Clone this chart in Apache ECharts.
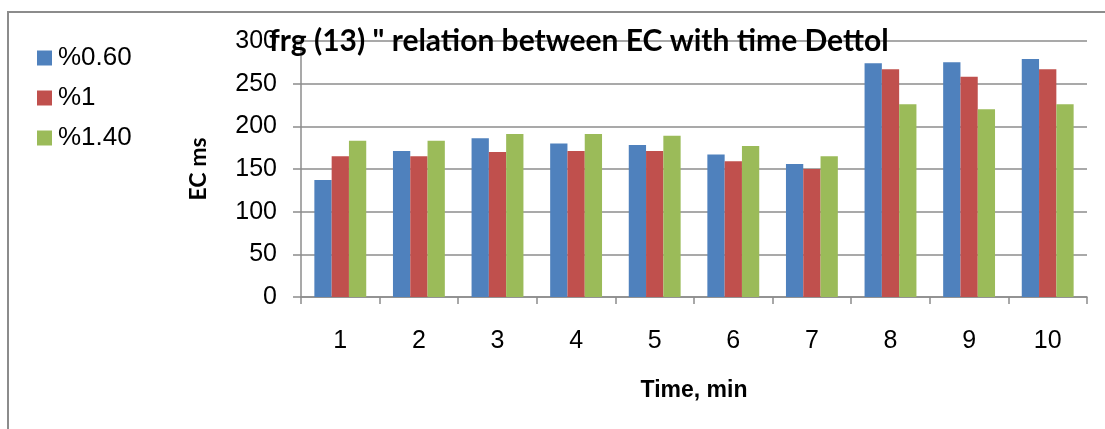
<!DOCTYPE html>
<html>
<head>
<meta charset="utf-8">
<script src="https://cdn.jsdelivr.net/npm/echarts@6/dist/echarts.min.js"></script>
<style>
  html, body { margin: 0; padding: 0; background: #fff; }
  #chart { width: 1105px; height: 429px; }
</style>
</head>
<body>
<div id="chart"></div>
<script>
// Time in minutes along the x axis
const categories = ['1', '2', '3', '4', '5', '6', '7', '8', '9', '10'];
// EC (ms) for each Dettol concentration
const seriesNames = ['%0.60', '%1', '%1.40'];
const conc060 = [137, 171, 186, 180, 178, 167, 156, 274, 275, 279];
const conc1 = [165, 165, 170, 171, 171, 159, 150, 267, 258, 267];
const conc140 = [183, 183, 191, 191, 189, 177, 165, 226, 220, 226];
const yTicks = { min: 0, max: 300, interval: 50 };

const colors = ['#4F81BD', '#C0504D', '#9BBB59'];
const valueSets = [conc060, conc1, conc140];

const chart = echarts.init(document.getElementById('chart'), null, { renderer: 'canvas' });

const gridLine = '#8c8c8c';

chart.setOption({
  animation: false,
  backgroundColor: '#fff',
  title: {
    text: 'frg (13) " relation between EC with time Dettol',
    left: 264,
    top: 21,
    textStyle: {
      fontFamily: 'Lato',
      fontWeight: 'bold',
      fontSize: 30,
      color: '#000'
    },
    z: 20
  },
  legend: {
    orient: 'vertical',
    left: 37,
    top: 45,
    padding: 0,
    itemWidth: 15,
    itemHeight: 15,
    itemGap: 14,
    icon: 'rect',
    textStyle: {
      fontFamily: 'Liberation Sans',
      fontSize: 26,
      color: '#000',
      padding: [0, 0, 0, 1]
    },
    data: seriesNames
  },
  graphic: [{
    type: 'rect',
    shape: { x: 8, y: 12, width: 1110, height: 430 },
    style: { fill: 'none', stroke: '#8c8c8c', lineWidth: 2 },
    silent: true,
    z: -10
  }],
  grid: {
    left: 301,
    right: 18,
    top: 41,
    bottom: 132
  },
  xAxis: {
    type: 'category',
    data: categories,
    name: 'Time, min',
    nameLocation: 'middle',
    nameGap: 82,
    nameTextStyle: {
      fontFamily: 'Liberation Sans',
      fontWeight: 'bold',
      fontSize: 23,
      color: '#000'
    },
    axisLine: { lineStyle: { color: gridLine, width: 1.5 } },
    axisTick: { show: true, alignWithLabel: false, length: 7, lineStyle: { color: gridLine, width: 1.5 } },
    axisLabel: {
      margin: 32,
      fontFamily: 'Liberation Sans',
      fontSize: 25,
      color: '#000'
    }
  },
  yAxis: {
    type: 'value',
    min: yTicks.min,
    max: yTicks.max,
    interval: yTicks.interval,
    name: 'EC ms',
    nameLocation: 'middle',
    nameRotate: 90,
    nameGap: 91,
    nameTextStyle: {
      fontFamily: 'Lato',
      fontWeight: 'bold',
      fontSize: 23,
      color: '#000'
    },
    axisLine: { show: true, lineStyle: { color: gridLine, width: 1.5 } },
    axisTick: { show: true, length: 8, lineStyle: { color: gridLine, width: 1.5 } },
    axisLabel: {
      margin: 24,
      fontFamily: 'Liberation Sans',
      fontSize: 25,
      color: '#000'
    },
    splitLine: { show: true, lineStyle: { color: gridLine, width: 1.5 } }
  },
  series: seriesNames.map((name, i) => ({
    name: name,
    type: 'bar',
    data: valueSets[i],
    barGap: '0%',
    barCategoryGap: '34%',
    itemStyle: { color: colors[i] },
    z: 5
  }))
});
</script>
</body>
</html>
